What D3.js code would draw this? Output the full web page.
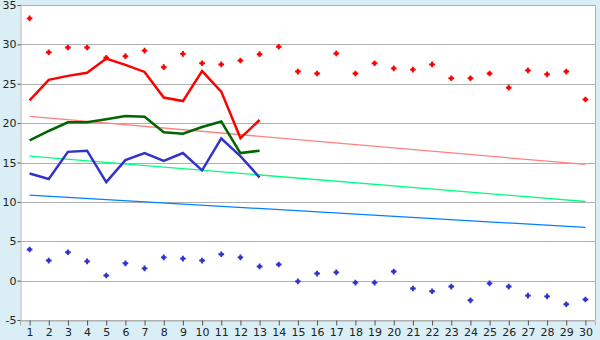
<!DOCTYPE html>
<html>
<head>
<meta charset="utf-8">
<script src="https://cdn.jsdelivr.net/npm/d3@7"></script>
<style>
  body { margin: 0; background: #d9eef5; }
  text { font-family: "DejaVu Sans", Verdana, sans-serif; font-size: 11px; fill: #222; }
</style>
</head>
<body>
<div id="chart"></div>
<script>
var days = d3.range(1, 31);
var yTicks = [-5, 0, 5, 10, 15, 20, 25, 30, 35];

// record high / record low per day
var recordMax = [33.3, 29.0, 29.6, 29.6, 28.3, 28.5, 29.2, 27.1, 28.8, 27.6,
                 27.45, 27.95, 28.75, 29.7, 26.55, 26.3, 28.85, 26.3, 27.6, 26.95,
                 26.8, 27.45, 25.7, 25.7, 26.3, 24.5, 26.7, 26.2, 26.55, 23.0];
var recordMin = [3.95, 2.55, 3.6, 2.45, 0.65, 2.2, 1.55, 2.95, 2.8, 2.55,
                 3.35, 2.95, 1.8, 2.05, -0.1, 0.9, 1.05, -0.25, -0.25, 1.15,
                 -1.0, -1.35, -0.75, -2.5, -0.35, -0.75, -1.9, -2.0, -3.0, -2.4];

// this month: max, mean, min (days 1..13)
var tMax  = [22.9, 25.5, 26.0, 26.4, 28.2, 27.4, 26.5, 23.25, 22.8, 26.6, 24.0, 18.1, 20.4];
var tMean = [17.8, 19.0, 20.1, 20.1, 20.5, 20.9, 20.8, 18.85, 18.65, 19.5, 20.2, 16.2, 16.5];
var tMin  = [13.6, 12.9, 16.35, 16.5, 12.5, 15.3, 16.2, 15.2, 16.2, 14.0, 18.05, 15.8, 13.1];

// normals at day 1 and day 30
var normMax  = [20.85, 14.75];
var normMean = [15.8, 10.05];
var normMin  = [10.85, 6.75];

var width = 600, height = 340;
var margin = {top: 5, right: 5, bottom: 20, left: 20};

var svg = d3.select('#chart').append('svg')
    .attr('width', width)
    .attr('height', height);

var xScale = d3.scaleLinear().domain([0.5, 30.5]).range([margin.left, width - margin.right]);
var yScale = d3.scaleLinear().domain([-5, 35]).range([height - margin.bottom, margin.top]);

svg.append('rect')
    .attr('x', xScale(0.5)).attr('y', yScale(35))
    .attr('width', xScale(30.5) - xScale(0.5))
    .attr('height', yScale(-5) - yScale(35))
    .attr('fill', '#fff');

// grid
svg.append('g').selectAll('line').data(yTicks)
  .enter().append('line')
    .attr('x1', xScale(0.5)).attr('x2', xScale(30.5))
    .attr('y1', d => Math.round(yScale(d)) + 0.5)
    .attr('y2', d => Math.round(yScale(d)) + 0.5)
    .attr('stroke', '#b0b0b0');

svg.append('line')
    .attr('x1', Math.round(xScale(30.5)) + 0.5).attr('x2', Math.round(xScale(30.5)) + 0.5)
    .attr('y1', yScale(35)).attr('y2', yScale(-5))
    .attr('stroke', '#b0b0b0');

// axes
var yAxis = d3.axisLeft(yScale).tickValues(yTicks).tickSize(3).tickPadding(1).tickFormat(d => String(d));
var yG = svg.append('g')
    .attr('transform', 'translate(' + (Math.round(xScale(0.5)) + 0.5) + ',0)')
    .call(yAxis);
var xAxis = d3.axisBottom(xScale).tickValues(days).tickSize(5).tickPadding(3).tickFormat(d => String(d));
var xG = svg.append('g')
    .attr('transform', 'translate(0,' + (Math.round(yScale(-5)) + 0.5) + ')')
    .call(xAxis);
[yG, xG].forEach(function(g) {
  g.select('.domain').attr('stroke', '#b0b0b0');
  g.selectAll('.tick line').attr('stroke', '#555');
  g.selectAll('text').attr('font-family', null).attr('font-size', null).attr('fill', '#222');
});

// normal trend lines
function drawNorm(vals, color) {
  svg.append('line')
    .attr('x1', xScale(1)).attr('y1', yScale(vals[0]))
    .attr('x2', xScale(30)).attr('y2', yScale(vals[1]))
    .attr('stroke', color)
    .attr('stroke-width', 1.3);
}
drawNorm(normMax, '#ff8080');
drawNorm(normMean, '#00ff80');
drawNorm(normMin, '#0080ff');

// current month lines
function drawLine(vals, color) {
  var line = d3.line()
      .x(function(d, i) { return xScale(days[i]); })
      .y(function(d) { return yScale(d); });
  svg.append('path')
    .datum(vals)
    .attr('d', line)
    .attr('fill', 'none')
    .attr('stroke', color)
    .attr('stroke-width', 2.5);
}
drawLine(tMax, '#ff0000');
drawLine(tMean, '#006600');
drawLine(tMin, '#3333cc');

// record markers: plus with a filled center
var cross = d3.symbol().type(d3.symbolCross).size(18);
var square = d3.symbol().type(d3.symbolSquare).size(10);
function drawDots(vals, color) {
  var g = svg.append('g').selectAll('g')
    .data(vals)
    .enter().append('g')
      .attr('transform', function(d, i) { return 'translate(' + xScale(days[i]) + ',' + yScale(d) + ')'; })
      .attr('fill', color);
  g.append('path').attr('d', cross);
  g.append('path').attr('d', square);
}
drawDots(recordMax, '#ff0000');
drawDots(recordMin, '#3333cc');
</script>
</body>
</html>
